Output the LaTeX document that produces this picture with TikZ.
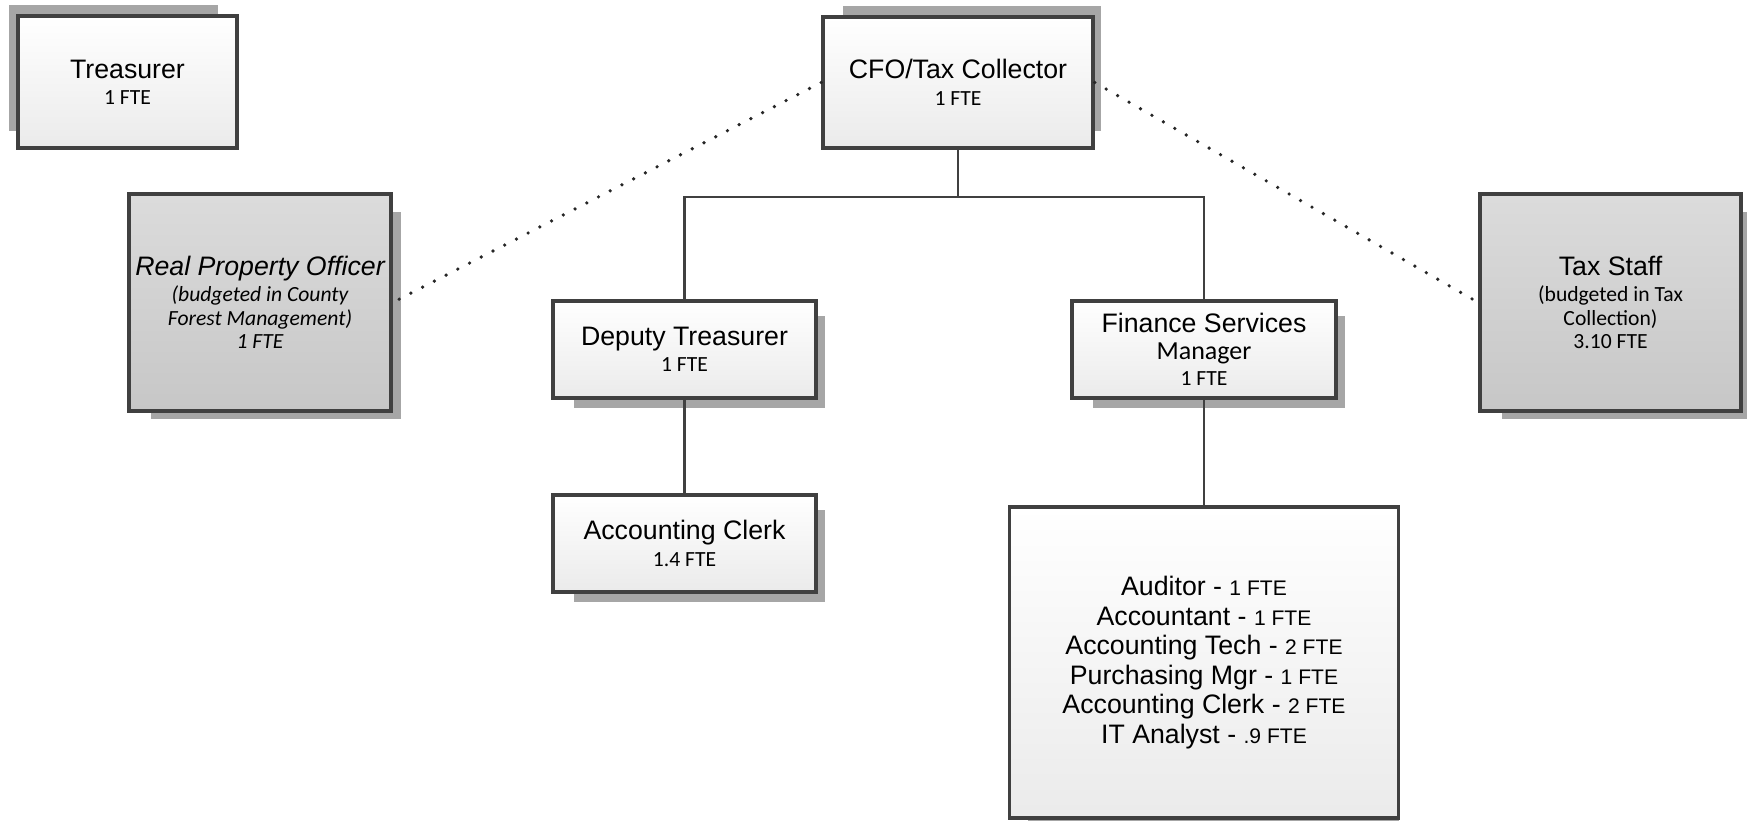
\documentclass[tikz,border=0pt]{standalone}
\usepackage{fontspec}
\setmainfont{Liberation Sans}
\newfontfamily\calfont{Carlito}
\usetikzlibrary{shadows}
\newcommand{\fte}[1]{{\calfont\fontsize{12.3}{13.4}\selectfont #1}}
\newcommand{\smfte}[1]{{\fontsize{12}{13.4}\selectfont #1}}
\begin{document}
\begin{tikzpicture}[
    font=\fontsize{15.2}{16}\selectfont,
    post/.style={draw=black!75,line width=2pt,align=center,inner sep=0pt,
        top color=white,bottom color=black!8},
    staff/.style={post,top color=black!14,bottom color=black!22},
    dropsh/.style 2 args={general shadow={fill=black!35,shadow scale=0.955,
        shadow xshift=#1,shadow yshift=#2}},
    link/.style={draw=black!75,line width=1.4pt},
    dots/.style={draw=black!85,line width=2.1pt,dash pattern=on 0pt off 7.5pt,line cap=round}]
    \useasboundingbox (0,0) rectangle (34.94,-16.4);
    %% top row
    \node[post,minimum width=4.38cm,minimum height=2.64cm,dropsh={-0.3cm}{0.29cm}] (treas) at (2.55,-1.64)
        {Treasurer\\[-1pt]\fte{1 FTE}};
    \node[post,minimum width=5.4cm,minimum height=2.62cm,dropsh={0.29cm}{0.3cm}] (cfo) at (19.16,-1.65)
        {CFO/Tax Collector\\[-1pt]\fte{1 FTE}};
    %% outside budgets
    \node[staff,minimum width=5.24cm,minimum height=4.34cm,dropsh={0.34cm}{-0.27cm},
        font=\fontsize{15.2}{16}\selectfont\itshape] (rpo) at (5.2,-6.05)
        {Real Property Officer\\[-1pt]\fte{(budgeted in County}\\[-2.6pt]\fte{Forest Management)}\\[-2.6pt]\fte{1 FTE}};
    \node[staff,minimum width=5.22cm,minimum height=4.34cm,dropsh={0.34cm}{-0.27cm}] (tax) at (32.21,-6.05)
        {Tax Staff\\[-1pt]\fte{(budgeted in Tax}\\[-2.6pt]\fte{Collection)}\\[-2.6pt]\fte{3.10 FTE}};
    %% second row
    \node[post,minimum width=5.26cm,minimum height=1.94cm,dropsh={0.32cm}{-0.26cm}] (dep) at (13.69,-6.99)
        {Deputy Treasurer\\[-1pt]\fte{1 FTE}};
    \node[post,minimum width=5.28cm,minimum height=1.94cm,dropsh={0.32cm}{-0.26cm}] (fin) at (24.08,-6.99)
        {Finance Services\\[-1pt]{\calfont\fontsize{14.8}{16}\selectfont Manager}\\[-1pt]\fte{1 FTE}};
    %% third row
    \node[post,minimum width=5.26cm,minimum height=1.94cm,dropsh={0.32cm}{-0.26cm}] (clerk) at (13.69,-10.87)
        {Accounting Clerk\\[-1pt]\fte{1.4 FTE}};
    \node[post,minimum width=7.78cm,minimum height=6.22cm,dropsh={0.2cm}{-0.3cm},
        font=\fontsize{15.2}{16.8}\selectfont] (team) at (24.08,-13.25)
        {Auditor - \smfte{1 FTE}\\Accountant - \smfte{1 FTE}\\Accounting Tech - \smfte{2 FTE}\\
         Purchasing Mgr - \smfte{1 FTE}\\Accounting Clerk - \smfte{2 FTE}\\IT Analyst - \smfte{.9 FTE}};
    %% lines
    \draw[link] (cfo.south) -- ++(0,-0.94) coordinate (bus);
    \draw[link] (dep.north) |- (bus) -| (fin.north);
    \draw[link] (dep.south) -- (clerk.north);
    \draw[link] (fin.south) -- (team.north);
    \draw[dots] (cfo.west) -- (rpo.east);
    \draw[dots] (cfo.east) -- (tax.west);
\end{tikzpicture}
\end{document}
